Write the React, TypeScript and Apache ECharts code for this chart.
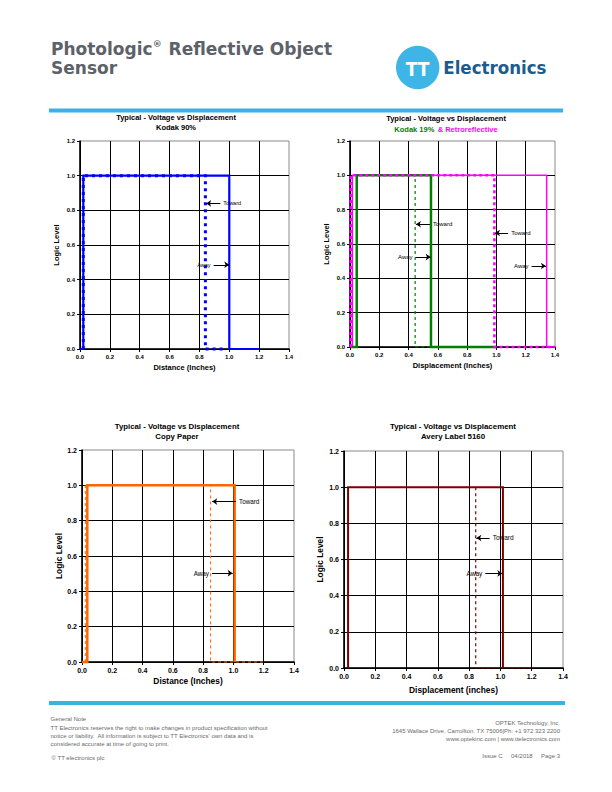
import React, { useEffect, useRef } from "react";
import * as echarts from "echarts";

// ---------- data ----------
const xMin = 0;
const xMax = 1.4;
const xStep = 0.2;
const yMin = 0;
const yMax = 1.2;
const yStep = 0.2;

const chartTitles = [
  "Typical - Voltage vs Displacement",
  "Typical - Voltage vs Displacement",
  "Typical - Voltage vs Displacement",
  "Typical - Voltage vs Displacement",
];
const chartSubtitles = ["Kodak 90%", "", "Copy Paper", "Avery Label 5160"];
const subtitle2Green = "Kodak 19%";
const subtitle2Magenta = "& Retroreflective";
const xNames = [
  "Distance (Inches)",
  "Displacement (Inches)",
  "Distance (Inches)",
  "Displacement (inches)",
];
const yName = "Logic Level";

// Kodak 90%
const kodak90Away = [[0, 0], [0.022, 0], [0.022, 1], [1.0, 1], [1.0, 0], [1.2, 0]];
const kodak90Toward = [[0.022, 0], [0.022, 1], [0.84, 1], [0.84, 0], [0.98, 0]];
// Kodak 19%
const kodak19Away = [[0, 0], [0.046, 0], [0.046, 1], [0.553, 1], [0.553, 0], [1.0, 0]];
const kodak19Toward = [[0.004, 0], [0.004, 1], [0.445, 1], [0.445, 0], [0.56, 0]];
// Retroreflective
const retroAway = [[0.016, 0], [0.016, 1], [1.343, 1], [1.343, 0], [1.4, 0]];
const retroToward = [[0.006, 0], [0.006, 1], [0.986, 1], [0.986, 0], [1.4, 0]];
// Copy paper
const copyAway = [[0, 0], [0.035, 0], [0.035, 1], [1.008, 1], [1.008, 0]];
const copyToward = [[0.022, 0], [0.022, 1], [0.849, 1], [0.849, 0], [1.2, 0]];
// Avery label 5160
const averyAway = [[0.026, 0], [0.026, 1], [1.016, 1], [1.016, 0]];
const averyToward = [[0.842, 1], [0.842, 0], [1.2, 0]];

// annotation arrows: [label, tailX, headX, y]
const arrows1: [string, number, number, number][] = [
  ["Toward", 0.94, 0.845, 0.84],
  ["Away", 0.895, 1.0, 0.486],
];
const arrows2: [string, number, number, number][] = [
  ["Toward", 0.546, 0.45, 0.715],
  ["Away", 0.448, 0.551, 0.524],
  ["Toward", 1.08, 0.99, 0.664],
  ["Away", 1.24, 1.338, 0.472],
];
const arrows3: [string, number, number, number][] = [
  ["Toward", 1.017, 0.86, 0.908],
  ["Away", 0.858, 0.995, 0.503],
];
const arrows4: [string, number, number, number][] = [
  ["Toward", 0.931, 0.846, 0.719],
  ["Away", 0.903, 1.012, 0.523],
];

const headerLine1a = "Photologic";
const headerReg = "®";
const headerLine1b = " Reflective Object";
const headerLine2 = "Sensor";
const footerLeft = [
  "General Note",
  "TT Electronics reserves the right to make changes in product specification without",
  "notice or liability.  All information is subject to TT Electronics' own data and is",
  "considered accurate at time of going to print.",
];
const footerCopy = "© TT electronics plc";
const footerRight = [
  "OPTEK Technology, Inc.",
  "1645 Wallace Drive, Carrollton, TX 75006|Ph: +1 972 323 2200",
  "www.optekinc.com | www.ttelectronics.com",
];
const footerIssue = "Issue C     04/2018     Page 3";

// ---------- layout ----------
const ARIAL = "'Liberation Sans', Arial, sans-serif";
const HEAD = "'DejaVu Sans', Verdana, sans-serif";
const LOGO = "'DejaVu Sans Condensed', 'DejaVu Sans', sans-serif";
const grids = [
  { left: 80, top: 141, width: 209, height: 208 },
  { left: 350, top: 141, width: 205, height: 206 },
  { left: 82, top: 450, width: 212, height: 212 },
  { left: 344, top: 451, width: 219, height: 217 },
];
const tickFont = [6, 6, 7, 7];
const nameFont = [7.5, 7.5, 8.4, 8.4];
const xNameGap = [14, 14, 15, 18];
const yNameGap = [20, 20, 17, 20];
const annFont = [5.5, 6, 6.3, 6.5];
const titleFont = [7.5, 7.5, 7.8, 7.9];
const titleCenters = [
  [176, 117, 127],
  [446, 118, 129],
  [177, 426, 436],
  [453, 426, 436],
];

function makeAxes(i: number) {
  const fmt = (v: number) => v.toFixed(1);
  const common = {
    gridIndex: i,
    type: "value",
    nameLocation: "middle",
    nameTextStyle: { fontSize: nameFont[i], fontWeight: "bold", color: "#000", fontFamily: ARIAL },
    axisLine: { show: true, onZero: false, lineStyle: { color: "#000", width: 1.5 } },
    axisTick: { show: true, length: 3, lineStyle: { color: "#000", width: 1 } },
    axisLabel: { fontSize: tickFont[i], fontWeight: "bold", color: "#000", fontFamily: ARIAL, formatter: fmt, margin: 5 },
    splitLine: { show: true, showMaxLine: false, lineStyle: { color: "#000", width: 1 } },
  };
  const xAxis = { ...common, min: xMin, max: xMax, interval: xStep, name: xNames[i], nameGap: xNameGap[i] };
  const yAxis = { ...common, min: yMin, max: yMax, interval: yStep, name: yName, nameGap: yNameGap[i], nameRotate: 90 };
  return { xAxis, yAxis };
}

function stepSeries(i: number, data: number[][], color: string, width: number, type: any, z: number) {
  return {
    type: "line",
    xAxisIndex: i,
    yAxisIndex: i,
    data,
    showSymbol: false,
    symbol: "none",
    clip: false,
    silent: true,
    z,
    lineStyle: { color, width, type, cap: "butt", join: "miter" },
  };
}

function arrowSeries(i: number, arrows: [string, number, number, number][]) {
  return {
    type: "lines",
    coordinateSystem: "cartesian2d",
    xAxisIndex: i,
    yAxisIndex: i,
    symbol: ["none", "arrow"],
    symbolSize: 5,
    silent: true,
    z: 10,
    lineStyle: { color: "#000", width: 1, opacity: 1, curveness: 0 },
    label: {
      show: true,
      position: "start",
      formatter: "{b}",
      fontSize: annFont[i],
      color: "#000",
      fontFamily: ARIAL,
      distance: 3,
    },
    data: arrows.map((a) => ({ name: a[0], coords: [[a[1], a[3]], [a[2], a[3]]] })),
  };
}

function txt(text: string, x: number, y: number, size: number, opts: any = {}) {
  return {
    type: "text",
    x,
    y,
    silent: true,
    style: {
      text,
      fontSize: size,
      fontFamily: opts.family || ARIAL,
      fontWeight: opts.weight || "normal",
      fill: opts.color || "#000",
      align: opts.align || "left",
      verticalAlign: "middle",
      textAlign: opts.align || "left",
      textVerticalAlign: "middle",
      lineHeight: opts.lineHeight,
    },
  };
}

export default function App() {
  const ref = useRef<HTMLDivElement>(null);
  useEffect(() => {
    if (!ref.current) return;
    const chart = echarts.init(ref.current, null, { renderer: "svg", width: 612, height: 792 });
    const axes = [0, 1, 2, 3].map(makeAxes);

    const graphic: any[] = [];
    // header (two lines in one text block)
    graphic.push({
      type: "text",
      x: 51,
      y: 58.6,
      silent: true,
      style: {
        text: `{a|${headerLine1a}}{r|${headerReg}}{a|${headerLine1b}}\n{a|${headerLine2}}`,
        verticalAlign: "middle",
        textVerticalAlign: "middle",
        rich: {
          a: { fontSize: 17, lineHeight: 19, fontWeight: "bold", fontFamily: HEAD, fill: "#5d6168", color: "#5d6168" },
          r: { fontSize: 9, lineHeight: 19, fontWeight: "bold", fontFamily: HEAD, fill: "#5d6168", color: "#5d6168", verticalAlign: "top", padding: [0, 1, 0, 0] },
        },
      },
    });
    graphic.push({ type: "circle", shape: { cx: 417.7, cy: 67.5, r: 21.7 }, style: { fill: "#3db5e6" }, silent: true });
    graphic.push(txt("TT", 417.5, 68.5, 19, { weight: "bold", family: LOGO, color: "#ffffff", align: "center" }));
    graphic.push(txt("Electronics", 443.3, 67.5, 18.5, { weight: "bold", family: LOGO, color: "#1c5b8e" }));
    graphic.push({ type: "rect", shape: { x: 49, y: 108.5, width: 514, height: 4 }, style: { fill: "#3ab3e4" }, silent: true });
    graphic.push({ type: "rect", shape: { x: 49, y: 701, width: 516, height: 4 }, style: { fill: "#3ab3e4" }, silent: true });

    // chart titles
    titleCenters.forEach((c, i) => {
      graphic.push(txt(chartTitles[i], c[0], c[1], titleFont[i], { weight: "bold", align: "center" }));
      if (i === 1) {
        graphic.push({
          type: "text",
          x: c[0],
          y: c[2],
          silent: true,
          style: {
            text: `{g|${subtitle2Green}} {m|${subtitle2Magenta}}`,
            align: "center",
            textAlign: "center",
            verticalAlign: "middle",
            textVerticalAlign: "middle",
            rich: {
              g: { fontSize: 7.5, fontWeight: "bold", fontFamily: ARIAL, fill: "#008000", color: "#008000" },
              m: { fontSize: 7.5, fontWeight: "bold", fontFamily: ARIAL, fill: "#ff00ff", color: "#ff00ff" },
            },
          },
        });
      } else {
        graphic.push(txt(chartSubtitles[i], c[0], c[2], titleFont[i], { weight: "bold", align: "center" }));
      }
    });

    // footer
    const footY = [719, 727.7, 735.5, 744];
    footerLeft.forEach((t, k) => graphic.push(txt(t, 50.5, footY[k], 6, { color: "#6a6a6a" })));
    graphic.push(txt(footerCopy, 51.5, 757.7, 6, { color: "#6a6a6a" }));
    const footRY = [723.3, 731.2, 739.3];
    footerRight.forEach((t, k) => graphic.push(txt(t, 560, footRY[k], 6, { color: "#6a6a6a", align: "right" })));
    graphic.push(txt(footerIssue, 560, 756, 6, { color: "#6a6a6a", align: "right" }));

    const option: any = {
      animation: false,
      backgroundColor: "#ffffff",
      grid: grids.map((g) => ({ ...g, show: true, borderColor: "#8a8a8a", borderWidth: 1, backgroundColor: "transparent", containLabel: false })),
      xAxis: axes.map((a) => a.xAxis),
      yAxis: axes.map((a) => a.yAxis),
      series: [
        stepSeries(0, kodak90Away, "#0000ff", 2.2, "solid", 3),
        stepSeries(0, kodak90Toward, "#0000ff", 3, [3, 4], 4),
        stepSeries(1, retroAway, "#ff00ff", 1.5, "solid", 3),
        stepSeries(1, kodak19Away, "#008000", 2.5, "solid", 4),
        stepSeries(1, kodak19Toward, "#008000", 1.2, [3, 3], 5),
        stepSeries(1, retroToward, "#ff00ff", 2.5, [3, 3], 5),
        stepSeries(2, copyAway, "#ff6600", 2.5, "solid", 3),
        stepSeries(2, copyToward, "#ff6600", 1, [3, 3], 4),
        stepSeries(3, averyAway, "#800000", 2, "solid", 3),
        stepSeries(3, averyToward, "#800000", 1.2, [3, 3], 4),
        arrowSeries(0, arrows1),
        arrowSeries(1, arrows2),
        arrowSeries(2, arrows3),
        arrowSeries(3, arrows4),
      ],
      graphic,
    };
    chart.setOption(option);
    return () => chart.dispose();
  }, []);
  return (
    <div
      ref={ref}
      style={{ position: "absolute", left: 0, top: 0, width: 612, height: 792, background: "#fff" }}
    />
  );
}
